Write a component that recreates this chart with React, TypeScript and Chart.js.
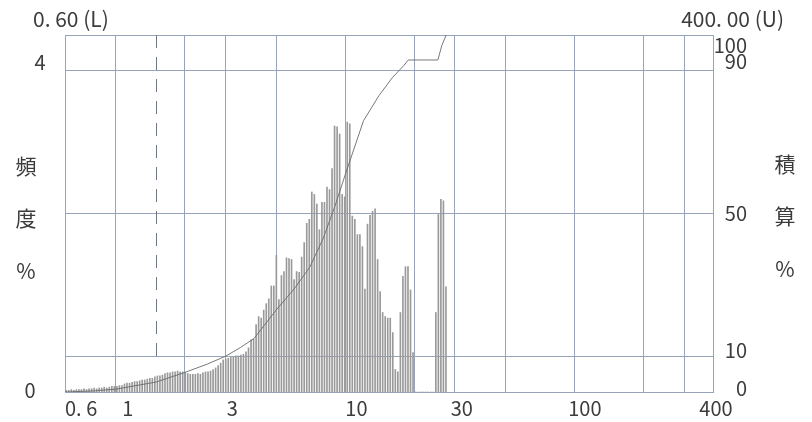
import React, { useEffect, useRef } from "react";
import { Chart, registerables } from "chart.js";

Chart.register(...registerables);

// Instrument channels: lower/upper size limits and channel count
const LOWER_LIMIT = 0.6;
const UPPER_LIMIT = 400;
const CHANNEL_COUNT = 256;

// Frequency (%) per channel
const freqFine = [
  0.02, 0.02, 0.03, 0.02, 0.03, 0.03, 0.03, 0.04, 0.03, 0.04,
  0.04, 0.05, 0.04, 0.05, 0.05, 0.06, 0.05, 0.06, 0.07, 0.07,
  0.07, 0.08, 0.08, 0.1, 0.11, 0.11, 0.12, 0.13, 0.13, 0.14,
  0.15, 0.15, 0.16, 0.17, 0.17, 0.19, 0.2, 0.2, 0.21, 0.23,
  0.24, 0.24, 0.25, 0.25, 0.26, 0.25, 0.25, 0.24, 0.23, 0.22,
  0.22, 0.22, 0.23, 0.22, 0.24, 0.25, 0.25, 0.26, 0.28, 0.3,
];
const freqMid = [
  0.33, 0.36, 0.4, 0.41, 0.42, 0.43, 0.44, 0.45, 0.45, 0.46,
  0.47, 0.5, 0.55, 0.65, 0.66, 0.84, 0.94, 0.92, 1.02, 1.1,
  1.16, 1.32, 1.32, 1.7, 1.15, 1.45, 1.5, 1.67, 1.66, 1.65,
  1.4, 1.5, 1.49, 1.68, 1.86, 2.1, 2.15, 2.49, 2.46, 2.34,
  2.02, 2.36, 2.36, 2.55, 2.52, 2.78, 3.31, 3.3, 3.21, 2.46,
];
const freqCoarse = [
  2.43, 3.36, 3.34, 2.19, 2.15, 1.96, 1.96, 1.81, 1.28, 2.09,
  2.2, 2.25, 2.28, 1.65, 1.25, 0.99, 0.94, 0.92, 0.92, 0.74,
  0.28, 0.25, 0.99, 1.44, 1.56, 1.56, 1.27, 0.49, 0, 0,
  0, 0, 0, 0, 0, 0, 0.99, 2.21, 2.4, 2.38, 1.31,
];

// Cumulative curve (%)
const cumSizes = [0.6, 0.8, 1, 1.5, 2, 2.5, 3, 3.5, 4, 5, 6, 7, 8, 9, 10, 12, 14, 16, 18, 18.8, 25.3, 26.3, 27.5];
const cumPercent = [0, 0.3, 0.8, 2.8, 5.5, 7.8, 10, 12.5, 15, 23, 29, 35, 43, 52, 61, 76, 83, 88, 91.5, 93, 93, 97, 100];

// Axis ticks and labels
const xGridValues = [0.6, 1, 2, 3, 5, 10, 20, 30, 50, 100, 200, 300, 400];
const xLabelValues = [0.6, 1, 3, 10, 30, 100, 400];
const xLabelTexts = ["0. 6", "1", "3", "10", "30", "100", "400"];
const rightGridValues = [0, 10, 50, 90, 100];
const rightLabelValues = [100, 90, 50, 10, 0];
const rightLabelTexts = ["100", "90", "50", "10", "0"];
const leftLabelValues = [4, 0];
const leftLabelTexts = ["4", "0"];
const LEFT_MAX = 4 / 0.9;
const markerSize = 1.5;
const lowerLabel = "0. 60 (L)";
const upperLabel = "400. 00 (U)";
const leftTitle = ["頻", "度", "%"];
const rightTitle = ["積", "算", "%"];

const GRID = "#97a3ba";
const TEXT = "#3c3c3c";
const FONT = '"Noto Sans CJK JP", "Noto Sans", sans-serif';

export default function App() {
  const ref = useRef<HTMLCanvasElement | null>(null);

  useEffect(() => {
    if (!ref.current) return;
    const freq = [...freqFine, ...freqMid, ...freqCoarse];
    const ratio = UPPER_LIMIT / LOWER_LIMIT;
    const barData = freq.map((v, i) => ({
      x: LOWER_LIMIT * Math.pow(ratio, (i + 0.5) / CHANNEL_COUNT),
      y: v,
    }));
    const cumData = cumSizes.map((s, i) => ({ x: s, y: cumPercent[i] }));

    const overlay = {
      id: "overlay",
      beforeDatasetsDraw(chart: any) {
        const { ctx, chartArea, scales } = chart;
        const x = Math.round(scales.x.getPixelForValue(markerSize)) + 0.5;
        ctx.save();
        ctx.strokeStyle = "#6f7784";
        ctx.lineWidth = 1;
        ctx.setLineDash([13, 9]);
        ctx.beginPath();
        ctx.moveTo(x, chartArea.top);
        ctx.lineTo(x, chartArea.bottom - 28);
        ctx.stroke();
        ctx.restore();
      },
      afterDraw(chart: any) {
        const { ctx, chartArea, scales } = chart;
        ctx.save();
        ctx.fillStyle = TEXT;
        ctx.textBaseline = "middle";
        ctx.font = `20px ${FONT}`;
        // bottom labels
        const xOff = [0, 12, 7, 11, 7, 10, 3];
        xLabelValues.forEach((v, i) => {
          const px = scales.x.getPixelForValue(v);
          if (i === 0) {
            ctx.textAlign = "left";
            ctx.fillText(xLabelTexts[i], px, chartArea.bottom + 16);
          } else {
            ctx.textAlign = "center";
            ctx.fillText(xLabelTexts[i], px + xOff[i], chartArea.bottom + 16);
          }
        });
        // right labels
        const rOff = [10, -9, 0, -6, -4];
        ctx.textAlign = "right";
        rightLabelValues.forEach((v, i) => {
          const py = scales.y2.getPixelForValue(v);
          ctx.fillText(rightLabelTexts[i], chartArea.right + 34, py + rOff[i]);
        });
        // left labels
        const lOff = [-8, -2];
        const lX = [40, 30];
        ctx.textAlign = "center";
        leftLabelValues.forEach((v, i) => {
          const py = scales.y.getPixelForValue(v);
          ctx.fillText(leftLabelTexts[i], lX[i], py + lOff[i]);
        });
        // limits
        ctx.font = `21px ${FONT}`;
        ctx.textAlign = "left";
        ctx.fillText(lowerLabel, 33, 19);
        ctx.textAlign = "right";
        ctx.fillText(upperLabel, 784, 19);
        // titles
        ctx.textAlign = "center";
        const ty = [166, 218, 271];
        leftTitle.forEach((t, i) => ctx.fillText(t, 26, ty[i]));
        rightTitle.forEach((t, i) => ctx.fillText(t, 785, ty[i] - 2));
        ctx.restore();
      },
    };

    const chart = new Chart(ref.current, {
      type: "bar",
      data: {
        datasets: [
          {
            type: "bar",
            data: barData as any,
            yAxisID: "y",
            backgroundColor: "#9a9a9a",
            borderWidth: 0,
            barThickness: 1,
            grouped: false,
          } as any,
          {
            type: "line",
            data: cumData as any,
            yAxisID: "y2",
            borderColor: "#6a6a6a",
            borderWidth: 0.9,
            pointRadius: 0,
            tension: 0,
            order: -1,
          } as any,
        ],
      },
      options: {
        responsive: false,
        animation: false,
        devicePixelRatio: 1,
        layout: { padding: { left: 65, right: 99, top: 35, bottom: 30 } },
        plugins: { legend: { display: false }, tooltip: { enabled: false } },
        scales: {
          x: {
            type: "logarithmic",
            min: LOWER_LIMIT,
            max: UPPER_LIMIT,
            offset: false,
            ticks: { display: false },
            grid: { color: GRID, lineWidth: 1, drawTicks: false, offset: false },
            border: { color: GRID },
            afterBuildTicks: (s: any) => {
              s.ticks = xGridValues.map((v) => ({ value: v }));
            },
          },
          y: {
            type: "linear",
            position: "left",
            min: 0,
            max: LEFT_MAX,
            ticks: { display: false },
            grid: { display: false, drawTicks: false },
            border: { color: GRID },
          },
          y2: {
            type: "linear",
            position: "right",
            min: 0,
            max: 100,
            ticks: { display: false },
            grid: { color: GRID, lineWidth: 1, drawTicks: false },
            border: { color: GRID },
            afterBuildTicks: (s: any) => {
              s.ticks = rightGridValues.map((v) => ({ value: v }));
            },
          },
        },
      } as any,
      plugins: [overlay],
    });
    return () => chart.destroy();
  }, []);

  return (
    <div style={{ position: "absolute", left: 0, top: 0, width: 812, height: 422, background: "#fff" }}>
      <canvas ref={ref} width={812} height={422} style={{ width: 812, height: 422, display: "block" }} />
    </div>
  );
}
